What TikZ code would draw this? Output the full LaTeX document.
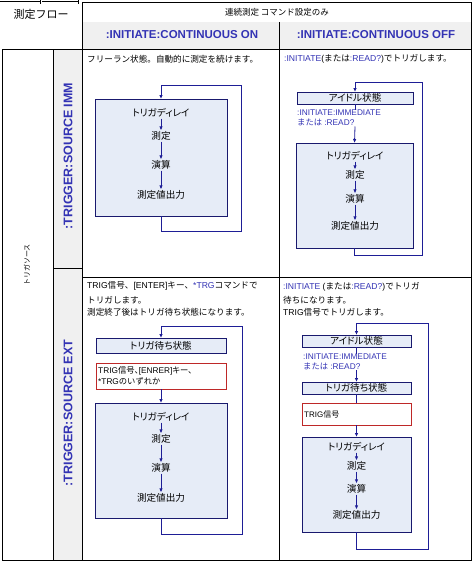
\documentclass[tikz,border=0pt]{standalone}
\usepackage{fontspec}
\setmainfont{Liberation Sans}
\newfontfamily\jp{Noto Sans CJK JP}
\newfontfamily\jpp[RawFeature=+palt]{Noto Sans CJK JP}
\usetikzlibrary{arrows.meta}
\definecolor{tblue}{RGB}{51,51,180}
\definecolor{navy}{RGB}{25,25,110}
\definecolor{bfill}{RGB}{230,236,247}
\definecolor{gbg}{RGB}{240,240,240}
\definecolor{rbox}{RGB}{190,40,40}
\definecolor{arrc}{RGB}{30,30,150}
\newcommand\J[1]{{\jp #1}}
\newcommand\Bl[1]{\textcolor{tblue}{#1}}
\tikzset{
  tbl/.style={draw=black,line width=0.8pt},
  flowbox/.style={draw=navy,fill=bfill,line width=0.8pt,inner sep=0pt,outer sep=0pt},
  redbox/.style={draw=rbox,fill=white,line width=0.8pt,inner sep=0pt,outer sep=0pt},
  arr/.style={draw=arrc,line width=0.8pt,-{Latex[length=4pt,width=3.5pt]}},
  plainline/.style={draw=arrc,line width=0.8pt},
  body/.style={font=\fontsize{8.6}{10}\selectfont,inner sep=0pt,anchor=west},
  boxtxt/.style={font=\jpp\fontsize{9.6}{11}\selectfont,inner sep=1pt},
  cmdtxt/.style={font=\fontsize{8.3}{10}\selectfont,text=tblue,align=left,inner sep=0pt,anchor=north west},
  hdr/.style={font=\bfseries\fontsize{11.5}{13}\selectfont,text=tblue,inner sep=0pt},
  vhdr/.style={font=\bfseries\fontsize{12.5}{14}\selectfont,text=tblue,inner sep=0pt,rotate=90},
}
\begin{document}
\begin{tikzpicture}[x=1pt,y=-1pt]
\useasboundingbox (0,0) rectangle (474,563);
% backgrounds
\fill[gbg] (82,22) rectangle (471,49);
\fill[gbg] (53,49) rectangle (82,560);
% table lines
\draw[tbl] (0,1.5) -- (40,1.5);
\draw[tbl] (42,1.5) -- (78,1.5);
\draw[tbl] (40,0) -- (40,4);
\draw[tbl] (78,0) -- (78,4);
\draw[tbl] (82,2) -- (471,2) -- (471,560) -- (2,560) -- (2,49) -- (471,49);
\draw[tbl] (82,2) -- (82,560);
\draw[tbl] (279,22) -- (279,560);
\draw[tbl] (53,49) -- (53,560);
\draw[tbl] (53,268) -- (82,268);
\draw[tbl] (82,277) -- (471,277);
% headers
\node[font=\jp\fontsize{11}{13}\selectfont,inner sep=0pt] (flow) at (41,14) {測定フロー};
\node[font=\jp\fontsize{8.5}{10}\selectfont,inner sep=0pt] (cont) at (277,12) {連続測定 コマンド設定のみ};
\node[hdr] (hon) at (182,35) {:INITIATE:CONTINUOUS ON};
\node[hdr] (hoff) at (376,35) {:INITIATE:CONTINUOUS OFF};
\node[font=\jp\fontsize{7}{9}\selectfont,inner sep=0pt,rotate=90] (tsrc) at (27,265) {トリガソース};
\node[vhdr] (himm) at (68,156) {:TRIGGER:SOURCE IMM};
\node[vhdr] (hext) at (68,413) {:TRIGGER:SOURCE EXT};

% ---------- cell A ----------
\node[body] (tA) at (87,59) {\J{フリーラン状態。自動的に測定を続けます。}};
\node[flowbox,minimum width=132pt,minimum height=117pt] (bigA) at (161,157.5) {};
\node[boxtxt] (a1) at (161,113) {トリガディレイ};
\node[boxtxt] (a2) at (161,136) {測定};
\node[boxtxt] (a3) at (161,165) {演算};
\node[boxtxt] (a4) at (161,195) {測定値出力};
\draw[arr] (a1) -- (a2);
\draw[arr] (a2) -- (a3);
\draw[arr] (a3) -- (a4);
\coordinate (aBR) at (241,231);
\coordinate (aTR) at (241,85);
\draw[arr] (bigA.south) |- (aBR) -- (aTR) -| (bigA.north);

% ---------- cell B ----------
\node[body] (tB) at (284,59) {\Bl{:INITIATE}(\J{または}\Bl{:READ?})\J{でトリガします。}};
\node[flowbox,minimum width=116pt,minimum height=12pt] (idleB) at (355,98) {};
\node[boxtxt] (idleBt) at (355,98) {アイドル状態};
\node[cmdtxt] (cmdB) at (297,110) {:INITIATE:IMMEDIATE\\\J{または} :READ?};
\node[flowbox,minimum width=117pt,minimum height=105pt] (bigB) at (354.5,195.5) {};
\node[boxtxt] (b1) at (355,156) {トリガディレイ};
\node[boxtxt] (b2) at (355,175) {測定};
\node[boxtxt] (b3) at (355,199) {演算};
\node[boxtxt] (b4) at (355,226) {測定値出力};
\draw[arr] (b1) -- (b2);
\draw[arr] (b2) -- (b3);
\draw[arr] (b3) -- (b4);
\draw[plainline] (idleB.south) -- (idleB.south |- cmdB.north);
\draw[arr] (idleB.south |- cmdB.south) -- (bigB.north);
\coordinate (bBR) at (422,255);
\coordinate (bTR) at (422,82);
\draw[arr] (bigB.south) |- (bBR) -- (bTR) -| (idleB.north);

% ---------- cell C ----------
\node[body] (tC1) at (87,286) {TRIG\J{信号、}[ENTER]\J{キー、}\Bl{*TRG}\J{コマンドで}};
\node[body] (tC2) at (87,300) {\J{トリガします。}};
\node[body] (tC3) at (87,312) {\J{測定終了後はトリガ待ち状態になります。}};
\node[flowbox,minimum width=130pt,minimum height=15pt] (waitC) at (161,345.5) {};
\node[boxtxt] (waitCt) at (161,345.5) {トリガ待ち状態};
\node[redbox,minimum width=130pt,minimum height=26pt] (redC) at (161,376) {};
\node[body,font=\fontsize{8.3}{11}\selectfont,align=left] (redCt) at (98,376) {TRIG{\jpp 信号、}[ENRER]{\jpp キー、}\\*TRG\J{のいずれか}};
\node[flowbox,minimum width=132pt,minimum height=115pt] (bigC) at (161,460.5) {};
\node[boxtxt] (c1) at (161,417) {トリガディレイ};
\node[boxtxt] (c2) at (161,439) {測定};
\node[boxtxt] (c3) at (161,468) {演算};
\node[boxtxt] (c4) at (161,498) {測定値出力};
\draw[arr] (c1) -- (c2);
\draw[arr] (c2) -- (c3);
\draw[arr] (c3) -- (c4);
\draw[arr] (redC.south) -- (bigC.north);
\coordinate (cBR) at (242,534);
\coordinate (cTR) at (242,326);
\draw[arr] (bigC.south) |- (cBR) -- (cTR) -| (waitC.north);

% ---------- cell D ----------
\node[body] (tD1) at (283,287) {\Bl{:INITIATE} (\J{または}\Bl{:READ?})\J{でトリガ}};
\node[body] (tD2) at (283,300) {\J{待ちになります。}};
\node[body] (tD3) at (283,312) {TRIG\J{信号でトリガします。}};
\node[flowbox,minimum width=109pt,minimum height=12pt] (idleD) at (356.5,341) {};
\node[boxtxt] (idleDt) at (356.5,341) {アイドル状態};
\node[cmdtxt] (cmdD) at (303,353.5) {:INITIATE:IMMEDIATE\\\J{または} :READ?};
\node[flowbox,minimum width=109pt,minimum height=12pt] (waitD) at (356.5,388) {};
\node[boxtxt] (waitDt) at (356.5,388) {トリガ待ち状態};
\node[redbox,minimum width=109pt,minimum height=22pt] (redD) at (356.5,414) {};
\node[body,font=\fontsize{8}{9}\selectfont] (redDt) at (304,414) {TRIG\J{信号}};
\node[flowbox,minimum width=109pt,minimum height=95pt] (bigD) at (356.5,484.5) {};
\node[boxtxt] (d1) at (356.5,447) {トリガディレイ};
\node[boxtxt] (d2) at (356.5,466) {測定};
\node[boxtxt] (d3) at (356.5,489) {演算};
\node[boxtxt] (d4) at (356.5,515) {測定値出力};
\draw[arr] (d1) -- (d2);
\draw[arr] (d2) -- (d3);
\draw[arr] (d3) -- (d4);
\draw[plainline] (idleD.south) -- (idleD.south |- cmdD.north);
\draw[arr] (idleD.south |- cmdD.south) -- (waitD.north);
\draw[plainline] (waitD.south) -- (redD.north);
\draw[arr] (redD.south) -- (bigD.north);
\coordinate (dBR) at (428,549);
\coordinate (dTR) at (428,323);
\draw[arr] (bigD.south) |- (dBR) -- (dTR) -| (idleD.north);
\end{tikzpicture}
\end{document}
